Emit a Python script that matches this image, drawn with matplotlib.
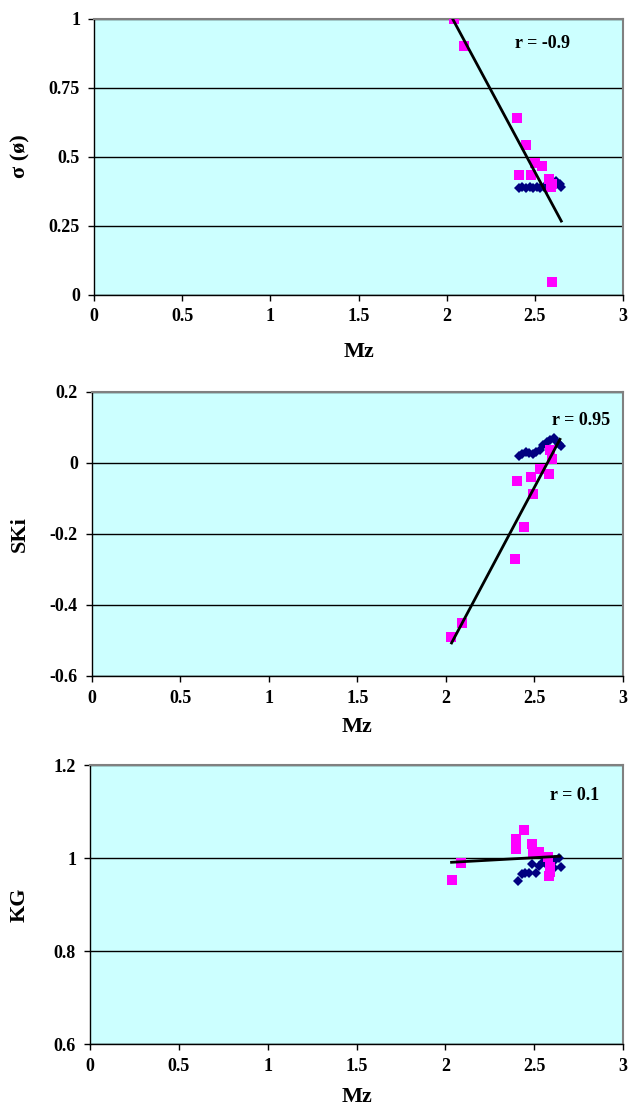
import numpy as np
import matplotlib.pyplot as plt

plt.rcParams['font.family'] = ['Liberation Serif', 'DejaVu Serif']
plt.rcParams['font.weight'] = 'bold'

# blue diamonds (same Mz in each panel)
blue_mz = [2.41, 2.43, 2.45, 2.47, 2.49, 2.51, 2.53, 2.55, 2.57, 2.59, 2.61, 2.62, 2.64, 2.65]
blue_sigma = [0.387, 0.388, 0.387, 0.388, 0.387, 0.388, 0.387, 0.388, 0.387, 0.388, 0.395, 0.41, 0.40, 0.388]
blue_ski = [0.018, 0.025, 0.030, 0.028, 0.025, 0.030, 0.035, 0.050, 0.058, 0.065, 0.070, 0.060, 0.052, 0.046]
blue_kg = [0.951, 0.966, 0.968, 0.968, 0.988, 0.968, 0.984, 0.991, 0.986, 0.995, 0.979, 0.995, 1.001, 0.980]

# pink squares
pink_mz1 = [2.04, 2.10, 2.40, 2.45, 2.50, 2.54, 2.41, 2.48, 2.58, 2.59, 2.595, 2.595]
pink_sigma = [1.0, 0.90, 0.64, 0.54, 0.475, 0.465, 0.432, 0.432, 0.42, 0.39, 0.40, 0.045]
pink_mz2 = [2.03, 2.09, 2.39, 2.44, 2.49, 2.40, 2.48, 2.53, 2.58, 2.60, 2.59]
pink_ski = [-0.49, -0.45, -0.27, -0.18, -0.087, -0.052, -0.039, -0.018, -0.031, 0.011, 0.035]
pink_mz3 = [2.035, 2.09, 2.395, 2.40, 2.445, 2.485, 2.495, 2.53, 2.58, 2.59, 2.585, 2.59]
pink_kg = [0.952, 0.989, 1.020, 1.042, 1.061, 1.031, 1.013, 1.013, 1.002, 0.981, 0.961, 0.970]

# trend lines (end points)
fit_x = [[2.036, 2.65], [2.032, 2.644], [2.035, 2.645]]
fit_y = [[0.996, 0.266], [-0.507, 0.066], [0.991, 1.004]]
r_text = ["r = -0.9", "r = 0.95", "r = 0.1"]
r_pos = [(2.39, 0.91), (2.60, 0.119), (2.59, 1.135)]

ylabels = ["σ (ø)", "SKi", "KG"]
ylims = [(0, 1), (-0.6, 0.2), (0.6, 1.2)]
yticks = [[0, 0.25, 0.5, 0.75, 1], [-0.6, -0.4, -0.2, 0, 0.2], [0.6, 0.8, 1, 1.2]]
yticklabels = [["0", "0.25", "0.5", "0.75", "1"], ["-0.6", "-0.4", "-0.2", "0", "0.2"],
               ["0.6", "0.8", "1", "1.2"]]
xticks = [0, 0.5, 1, 1.5, 2, 2.5, 3]
xticklabels = ["0", "0.5", "1", "1.5", "2", "2.5", "3"]

W, H = 629, 1107
fig = plt.figure(figsize=(W / 100, H / 100), dpi=100)

# axes boxes in pixels: left, top, right, bottom
boxes = [(94, 18.5, 623, 294.5), (91.7, 391.7, 623, 676), (90, 765, 623, 1044.3)]
xlabel_y = [352, 727, 1097]

blues = [blue_sigma, blue_ski, blue_kg]
pink_x = [pink_mz1, pink_mz2, pink_mz3]
pink_y = [pink_sigma, pink_ski, pink_kg]

for i in range(3):
    l, t, r, b = boxes[i]
    ax = fig.add_axes([l / W, 1 - b / H, (r - l) / W, (b - t) / H])
    ax.set_facecolor('#CCFFFF')
    ax.set_xlim(0, 3)
    ax.set_ylim(*ylims[i])
    ax.set_yticks(yticks[i])
    ax.set_yticklabels(yticklabels[i])
    ax.set_xticks(xticks)
    ax.set_xticklabels(xticklabels)
    ax.tick_params(labelsize=13, length=4, width=1, direction='out')
    ax.tick_params(axis='x', pad=6)
    ax.tick_params(axis='y', pad=6)
    ax.grid(axis='y', color='black', linewidth=1)
    ax.set_axisbelow(True)
    for s in ['top', 'right']:
        ax.spines[s].set_color('#808080')
        ax.spines[s].set_linewidth(1.5)
    for s in ['left', 'bottom']:
        ax.spines[s].set_color('black')
        ax.spines[s].set_linewidth(1)

    ax.plot(blue_mz, blues[i], 'D', color='#000080', markersize=5.5, markeredgewidth=0, zorder=3)
    ax.plot(pink_x[i], pink_y[i], 's', color='#FF00FF', markersize=6.5, markeredgewidth=0, zorder=3)
    ax.plot(fit_x[i], fit_y[i], color='black', linewidth=2, zorder=4)
    ax.text(r_pos[i][0], r_pos[i][1], r_text[i], fontsize=13, fontweight='bold',
            ha='left', va='center', zorder=5)

    ax.set_ylabel(ylabels[i], fontsize=16, fontweight='bold')
    ax.yaxis.set_label_coords((30 - l) / (r - l), 0.5)
    fig.text((l + r) / 2 / W, 1 - xlabel_y[i] / H, "Mz", fontsize=16, fontweight='bold',
             ha='center', va='center')

fig.savefig('out.png', dpi=100)
